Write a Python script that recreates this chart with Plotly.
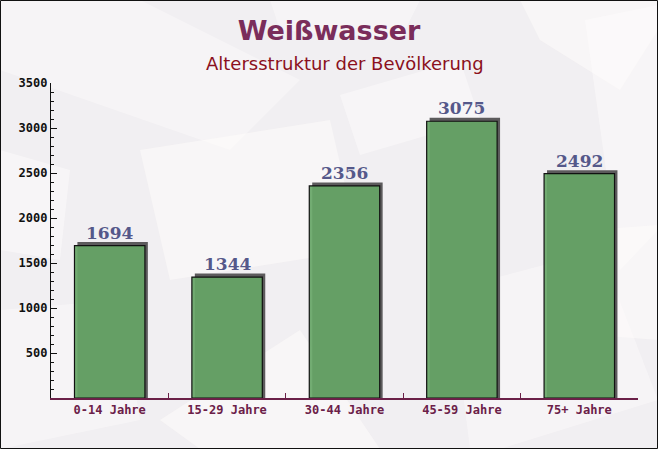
import plotly.graph_objects as go

categories = ["0-14 Jahre", "15-29 Jahre", "30-44 Jahre", "45-59 Jahre", "75+ Jahre"]
values = [1694, 1344, 2356, 3075, 2492]
y_ticks = [500, 1000, 1500, 2000, 2500, 3000, 3500]

shadow_extra = 38

W, H = 658, 449
ML, MR, MT, MB = 51, 20, 83, 51
PW, PH = W - ML - MR, H - MT - MB


def px(x, y):
    return (x - ML) / PW, (H - MB - y) / PH


def poly(points, color):
    pts = [px(x, y) for x, y in points]
    d = "M " + " L ".join(f"{a:.4f},{b:.4f}" for a, b in pts) + " Z"
    return dict(type="path", xref="paper", yref="paper", path=d,
                fillcolor=color, line=dict(width=0), layer="below")


light = "rgba(255,253,252,0.5)"
bg_shapes = [
    poly([(0, 0), (140, 0), (300, 80), (230, 150), (0, 70)], "rgba(255,253,253,0.4)"),
    poly([(140, 150), (330, 120), (360, 250), (170, 280)], light),
    poly([(520, 0), (658, 0), (658, 30), (620, 90), (540, 40)], light),
    poly([(585, 20), (658, 5), (658, 230), (620, 270)], "rgba(255,253,252,0.45)"),
    poly([(590, 230), (658, 225), (658, 340), (595, 335)], light),
    poly([(340, 95), (460, 60), (480, 120), (360, 155)], "rgba(255,253,252,0.45)"),
    poly([(0, 310), (120, 300), (140, 420), (0, 449)], "rgba(255,253,252,0.4)"),
    poly([(160, 420), (300, 330), (380, 449), (200, 449)], light),
    poly([(450, 290), (600, 250), (658, 400), (500, 449), (470, 449)], "rgba(255,253,252,0.4)"),
    poly([(0, 150), (70, 170), (60, 260), (0, 250)], "rgba(255,253,252,0.45)"),
    poly([(270, 0), (420, 0), (400, 40), (280, 30)], "rgba(255,253,252,0.4)"),
]

fig = go.Figure()
fig.add_trace(go.Bar(
    x=categories, y=[v + shadow_extra for v in values],
    width=0.6, offset=-0.275,
    marker=dict(color="#5c5a5c", line=dict(width=0)),
    hoverinfo="skip", showlegend=False,
))
fig.add_trace(go.Bar(
    x=categories, y=values,
    width=0.6, offset=-0.3,
    marker=dict(color="rgba(102,165,102,0.92)", line=dict(color="#111111", width=1.2)),
    textposition="none", showlegend=False,
))
for c, v in zip(categories, values):
    fig.add_annotation(x=c, y=v, text=f"<b>{v}</b>", showarrow=False,
                       yanchor="bottom", yshift=1,
                       font=dict(family="DejaVu Serif", size=17, color="#55588a"))

fig.add_annotation(text="Altersstruktur der Bevölkerung", xref="paper", yref="paper",
                   x=0.5, y=px(0, 63)[1], xanchor="center", yanchor="middle", showarrow=False,
                   font=dict(family="DejaVu Sans", size=18, color="#8b1020"))

fig.update_layout(
    width=W, height=H,
    margin=dict(l=ML, r=MR, t=MT, b=MB, autoexpand=False),
    paper_bgcolor="#f1eff2", plot_bgcolor="rgba(0,0,0,0)",
    barmode="overlay",
    title=dict(text="<b>Weißwasser</b>", x=0.5, xanchor="center", y=1 - 31 / H, yanchor="middle",
               font=dict(family="DejaVu Sans", size=27, color="#7a2d5b")),
    shapes=bg_shapes + [
        dict(type="rect", xref="paper", yref="paper",
             x0=px(0.5, 0)[0], x1=px(W - 0.5, 0)[0], y0=px(0, H - 0.5)[1], y1=px(0, 0.5)[1],
             line=dict(color="#111111", width=1), layer="below"),
    ],
)
fig.update_xaxes(
    showline=True, linecolor="#6b2048", linewidth=1.5, ticks="inside", tickson="boundaries",
    ticklen=5, tickcolor="#6b2048", automargin=False,
    tickfont=dict(family="DejaVu Sans Mono", size=12, color="#6b2048", weight="bold"),
    range=[-0.5, 4.5], showgrid=False,
)
fig.update_yaxes(
    range=[0, 3500], tickvals=y_ticks, ticks="inside", ticklen=6, tickcolor="#111111",
    showline=True, linecolor="#111111", linewidth=1.2, showgrid=False, zeroline=False,
    automargin=False,
    tickfont=dict(family="DejaVu Sans Mono", size=12, color="#111111", weight="bold"),
    minor=dict(dtick=100, ticks="inside", ticklen=3, tickcolor="#111111"),
)
fig.write_html("out.html", config={"displayModeBar": False},
               post_script="document.body.style.margin='0';document.body.style.overflow='hidden';")
